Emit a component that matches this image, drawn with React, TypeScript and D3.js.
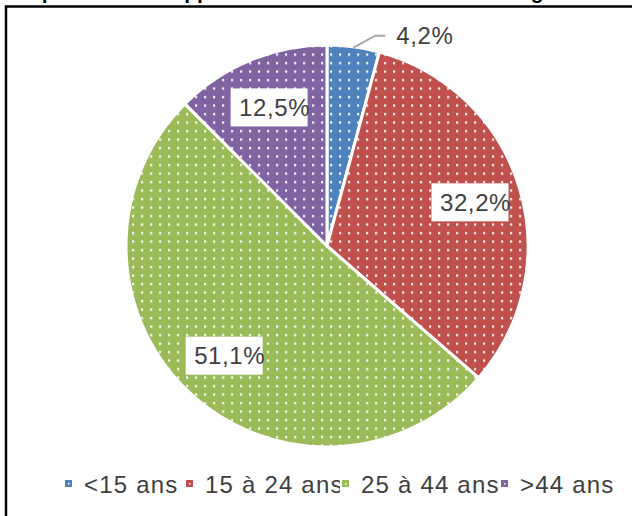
import { useMemo } from "react"
import * as d3 from "d3"

const categories = ["<15 ans", "15 à 24 ans", "25 à 44 ans", ">44 ans"]
const shares = [4.2, 32.2, 51.1, 12.5]
const colors = ["#4F81BD", "#C0504D", "#9BBB59", "#8064A2"]
const title = "Répartition des apprenants de l'échantillon selon l'âge"

const W = 632
const H = 516
const cx = 327
const cy = 246
const R = 201
const font = "'Liberation Sans', Arial, sans-serif"

// legend slot widths (Excel squeezes and clips the text)
const legendSlots = [121, 156, 159, 130]
const legendStart = 65

const fmt = (v: number) => `${v.toFixed(1).replace(".", ",")}%`

export default function App() {
  const arcs = useMemo(
    () =>
      d3
        .pie<number>()
        .sort(null)
        .value((d) => d)(shares),
    []
  )

  const arc = d3.arc<d3.PieArcDatum<number>>().innerRadius(0).outerRadius(R)
  const labelArc = d3.arc<d3.PieArcDatum<number>>().innerRadius(150).outerRadius(150)

  let acc = legendStart
  const legendX = legendSlots.map((w) => {
    const x = acc
    acc += w
    return x
  })

  return (
    <svg
      width={W}
      height={H}
      style={{ position: "fixed", left: 0, top: 0, background: "#fff" }}
      fontFamily={font}
    >
      <defs>
        {colors.map((c, i) => (
          <pattern key={i} id={`dots${i}`} width={9} height={8.5} patternUnits="userSpaceOnUse">
            <rect width={9} height={8.5} fill={c} />
            <rect x={3} y={3} width={2.2} height={2.2} fill="#fff" opacity={0.95} />
          </pattern>
        ))}
        {legendX.map((x, i) => (
          <clipPath key={i} id={`lclip${i}`}>
            <rect x={x} y={460} width={legendSlots[i] - 2} height={50} />
          </clipPath>
        ))}
      </defs>

      {/* title, mostly cut off at the top */}
      <text x={15} y={-1} fontSize={20} fontWeight="bold" fill="#000" textLength={540} lengthAdjust="spacingAndGlyphs">
        {title}
      </text>

      {/* frame */}
      <rect x={6} y={6.5} width={W + 20} height={H + 20} fill="none" stroke="#000" strokeWidth={2.5} />

      <g transform={`translate(${cx},${cy})`}>
        {arcs.map((a, i) => (
          <path key={i} d={arc(a) || ""} fill={`url(#dots${i})`} stroke="#fff" strokeWidth={3} strokeLinejoin="round" />
        ))}

        {arcs.map((a, i) => {
          const mid = (a.startAngle + a.endAngle) / 2
          if (a.data < 8) {
            // small slice: outside label with a leader line
            const sx = Math.sin(mid) * (R - 1)
            const sy = -Math.cos(mid) * (R - 1)
            const bx = sx + 22
            const by = sy - 12
            const ex = bx + 10
            return (
              <g key={i}>
                <polyline points={`${sx},${sy} ${bx},${by} ${ex},${by}`} fill="none" stroke="#A6A6A6" strokeWidth={2} />
                <text x={ex + 11} y={by} dy="0.36em" fontSize={24} fill="#404040" letterSpacing={0.6}>
                  {fmt(a.data)}
                </text>
              </g>
            )
          }
          const [lx, ly] = labelArc.centroid(a)
          return (
            <g key={i}>
              <rect x={lx - 39} y={ly - 19} width={77} height={38} fill="#fff" />
              <text x={lx + 5} y={ly} dy="0.36em" textAnchor="middle" fontSize={24} fill="#404040" letterSpacing={0.6}>
                {fmt(a.data)}
              </text>
            </g>
          )
        })}
      </g>

      {/* legend */}
      {categories.map((c, i) => (
        <g key={c}>
          <rect x={legendX[i]} y={480} width={7} height={7} fill={colors[i]} />
          <rect x={legendX[i] + 3} y={483} width={1.5} height={1.5} fill="#fff" />
          <text
            x={legendX[i] + 19}
            y={484}
            dy="0.36em"
            fontSize={24}
            fill="#404040"
            clipPath={`url(#lclip${i})`}
            letterSpacing={1.2}
          >
            {c}
          </text>
        </g>
      ))}
    </svg>
  )
}
